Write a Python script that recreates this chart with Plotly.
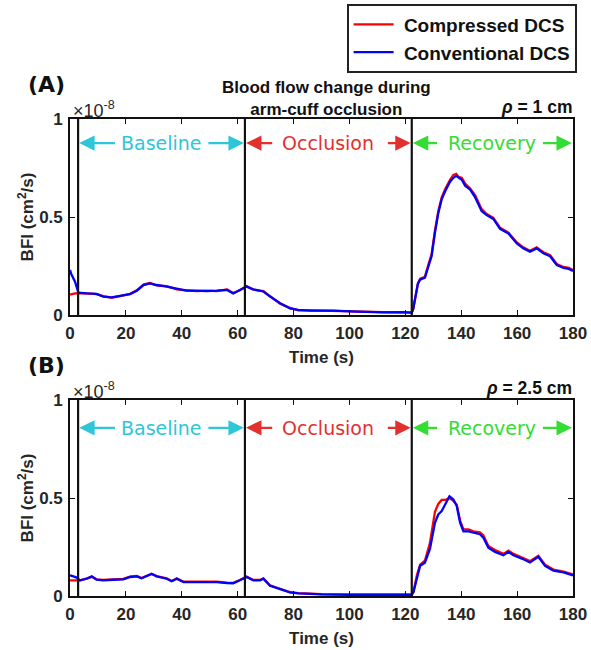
import plotly.graph_objects as go

# ---------------- data (BFI in units of 1e-8 cm^2/s) ----------------
tA = [
    0, 0.4, 1.8, 3.0, 6, 9.5, 11.9, 14.9, 17.9, 21.5,
    23.9, 26.3, 28.6, 31, 34.6, 38.2, 41.7, 45.3, 48.9, 52.5,
    56.2, 58.4, 60.8, 63.2, 65.6, 69.2, 71.6, 75.2, 78.7, 81.7,
    86, 94.3, 102.6, 112.1, 119.3, 122.3, 122.8, 123.6, 124.5, 125.3,
    127.0, 128.3, 129.4, 130.6, 131.8, 133.0, 134.2, 136.0, 137.2, 138.2,
    139.0, 140.2, 141.4, 143.2, 145.0, 147.3, 149.1, 151.5, 153.9, 156.9,
    159.9, 162.2, 164.6, 167.0, 169.4, 171.8, 174.2, 176.6, 178.5, 180]
conv_A = [
    0.23, 0.21, 0.17, 0.114, 0.11, 0.108, 0.094, 0.09, 0.098, 0.107,
    0.124, 0.153, 0.161, 0.153, 0.145, 0.133, 0.124, 0.124, 0.122, 0.124,
    0.128, 0.11, 0.128, 0.145, 0.131, 0.12, 0.094, 0.06, 0.034, 0.026,
    0.022, 0.022, 0.017, 0.013, 0.015, 0.012, 0.03, 0.10, 0.16, 0.18,
    0.19, 0.25, 0.30, 0.42, 0.52, 0.59, 0.63, 0.68, 0.70, 0.71,
    0.70, 0.69, 0.66, 0.64, 0.60, 0.53, 0.51, 0.49, 0.44, 0.416,
    0.365, 0.34, 0.323, 0.34, 0.315, 0.30, 0.255, 0.24, 0.235, 0.225]
comp_A = [
    0.105, 0.105, 0.11, 0.112, 0.11, 0.106, 0.096, 0.088, 0.096, 0.108,
    0.126, 0.155, 0.163, 0.151, 0.147, 0.131, 0.126, 0.122, 0.124, 0.122,
    0.13, 0.112, 0.126, 0.147, 0.129, 0.122, 0.096, 0.058, 0.036, 0.024,
    0.024, 0.02, 0.019, 0.015, 0.013, 0.012, 0.03, 0.10, 0.16, 0.185,
    0.195, 0.26, 0.31, 0.43, 0.53, 0.60, 0.64, 0.69, 0.715, 0.72,
    0.705, 0.70, 0.67, 0.645, 0.61, 0.54, 0.515, 0.495, 0.445, 0.42,
    0.37, 0.345, 0.328, 0.345, 0.32, 0.305, 0.26, 0.245, 0.24, 0.23]

tB = [
    0, 0.4, 2.2, 3.6, 6, 7.8, 9.5, 11.9, 15.5, 19.1,
    21.5, 23.9, 25.6, 28, 29.2, 31, 34.6, 36.4, 38.2, 40.6,
    46.5, 52.5, 56.2, 58.4, 60.8, 63.2, 65.6, 68, 69.2, 71.6,
    75.2, 78.7, 81.7, 90, 100, 110, 120, 122.3, 122.9, 124.2,
    125.3, 127.0, 128.8, 130.6, 131.8, 133.0, 134.2, 135.8, 137.2, 138.4,
    139.6, 140.8, 142.6, 144.4, 146.7, 147.9, 149.7, 152.1, 155.1, 156.9,
    158.7, 161.7, 164.6, 167.6, 170, 173, 176.6, 180]
conv_B = [
    0.105, 0.104, 0.095, 0.08, 0.088, 0.1, 0.083, 0.08, 0.083, 0.085,
    0.097, 0.1, 0.09, 0.107, 0.112, 0.1, 0.088, 0.075, 0.088, 0.071,
    0.071, 0.071, 0.066, 0.065, 0.08, 0.097, 0.08, 0.08, 0.088, 0.052,
    0.035, 0.018, 0.013, 0.008, 0.006, 0.005, 0.006, 0.006, 0.02, 0.10,
    0.154, 0.17, 0.24, 0.374, 0.416, 0.433, 0.467, 0.509, 0.492, 0.459,
    0.374, 0.33, 0.33, 0.323, 0.315, 0.298, 0.247, 0.225, 0.208, 0.225,
    0.208, 0.191, 0.171, 0.2, 0.154, 0.129, 0.12, 0.105]
comp_B = [
    0.08, 0.08, 0.082, 0.08, 0.09, 0.098, 0.085, 0.082, 0.085, 0.087,
    0.099, 0.102, 0.092, 0.109, 0.114, 0.102, 0.09, 0.077, 0.09, 0.073,
    0.073, 0.073, 0.068, 0.067, 0.082, 0.099, 0.082, 0.082, 0.09, 0.054,
    0.037, 0.02, 0.015, 0.01, 0.008, 0.007, 0.008, 0.008, 0.02, 0.11,
    0.16, 0.18, 0.27, 0.43, 0.47, 0.49, 0.49, 0.50, 0.485, 0.465,
    0.385, 0.34, 0.34, 0.33, 0.325, 0.31, 0.255, 0.235, 0.215, 0.232,
    0.215, 0.198, 0.178, 0.205, 0.16, 0.135, 0.125, 0.11]

phase_names = ["Baseline", "Occlusion", "Recovery"]
phase_colors = ["#2ec6d9", "#e3302f", "#33dd33"]
phase_bounds = [2.9, 62.6, 122.3, 180]   # phase boundaries (s)
boundary_lines = [2.9, 62.6, 122.3]
arrow_tail_left = [16.6, 72.9, 131.9]
arrow_tail_right = [49.0, 113.2, 168.7]

x_ticks = [0, 20, 40, 60, 80, 100, 120, 140, 160, 180]
y_ticks = [0, 0.5, 1]
y_ticktext = ["0", "0.5", "1"]
series_names = ["Compressed DCS", "Conventional DCS"]
series_colors = ["#ff0000", "#0000ff"]
panel_labels = ["(A)", "(B)"]
rho_labels = ["<i>ρ</i> = 1 cm", "<i>ρ</i> = 2.5 cm"]

# ---------------- figure ----------------
W, H = 591, 650
AX_L, AX_R = 70, 573
panels = [
    dict(top=119, bot=315, t=tA, comp=comp_A, conv=conv_A, arrow_y=0.877),
    dict(top=400, bot=596, t=tB, comp=comp_B, conv=conv_B, arrow_y=0.858),
]

SANS = "Liberation Sans, Arial, sans-serif"
VERD = "DejaVu Sans, Verdana, sans-serif"
INK = "#262626"

fig = go.Figure()
annotations = []
shapes = []

for i, p in enumerate(panels):
    xa = "x" if i == 0 else "x2"
    ya = "y" if i == 0 else "y2"
    for name, col, vals in zip(series_names, series_colors, [p["comp"], p["conv"]]):
        fig.add_trace(go.Scatter(
            x=p["t"], y=vals, mode="lines", name="\u00a0" + name,
            line=dict(color=col, width=2.3),
            xaxis=xa, yaxis=ya, showlegend=(i == 0)))

    axis_common = dict(
        showline=True, linecolor="#111111", linewidth=1.6, mirror="ticks",
        ticks="inside", ticklen=5, tickwidth=1.2, tickcolor="#111111",
        showgrid=False, zeroline=False, automargin=False,
        tickfont=dict(family=SANS, size=17, color=INK, weight="bold"))
    xdom = [AX_L / W, AX_R / W]
    ydom = [1 - p["bot"] / H, 1 - p["top"] / H]
    xkey = "xaxis" if i == 0 else "xaxis2"
    ykey = "yaxis" if i == 0 else "yaxis2"
    fig.update_layout(**{
        xkey: dict(axis_common, domain=xdom, range=[0, 180], tickvals=x_ticks,
                   anchor=ya, ticklabelstandoff=2,
                   title=dict(text="Time (s)", standoff=9,
                              font=dict(family=SANS, size=17, color=INK, weight="bold"))),
        ykey: dict(axis_common, domain=ydom, range=[0, 1], tickvals=y_ticks,
                   ticktext=y_ticktext, anchor=xa, ticklabelstandoff=2,
                   title=dict(text="BFI (cm<sup>2</sup>/s)", standoff=1,
                              font=dict(family=SANS, size=17, color=INK, weight="bold"))),
    })

    # phase boundary lines
    for bx in boundary_lines:
        shapes.append(dict(type="line", xref=xa, yref=ya + " domain", x0=bx, x1=bx,
                           y0=0, y1=1, line=dict(color="#111111", width=2.2)))

    # phase labels with arrows
    for k, (nm, col) in enumerate(zip(phase_names, phase_colors)):
        mid = (phase_bounds[k] + phase_bounds[k + 1]) / 2
        yv = p["arrow_y"]
        annotations.append(dict(xref=xa, yref=ya, x=mid, y=yv, text=nm, showarrow=False,
                                font=dict(family=VERD, size=19, color=col)))
        for tail, head in [(arrow_tail_left[k], phase_bounds[k] + 0.4),
                           (arrow_tail_right[k], phase_bounds[k + 1] - 0.4)]:
            annotations.append(dict(xref=xa, yref=ya, axref=xa, ayref=ya,
                                    x=head, y=yv, ax=tail, ay=yv, text="",
                                    showarrow=True, arrowhead=2, arrowsize=1.4,
                                    arrowwidth=2.2, arrowcolor=col, standoff=0,
                                    startstandoff=0))

    # panel letter, exponent, rho label
    annotations.append(dict(xref="paper", yref="paper", x=26 / W, y=1 - (p["top"] - 34) / H,
                            xanchor="left", yanchor="middle", text=panel_labels[i],
                            showarrow=False,
                            font=dict(family=VERD, size=22, color="#111111", weight="bold")))
    annotations.append(dict(xref="paper", yref="paper", x=71 / W, y=1 - (p["top"] - 10) / H,
                            xanchor="left", yanchor="middle", text="×10<sup>-8</sup>",
                            showarrow=False, font=dict(family=SANS, size=18, color=INK)))
    annotations.append(dict(xref="paper", yref="paper", x=(AX_R + 1) / W, y=1 - (p["top"] - 12) / H,
                            xanchor="right", yanchor="middle", text=rho_labels[i],
                            showarrow=False,
                            font=dict(family=SANS, size=17.5, color="#111111", weight="bold")))

annotations.append(dict(xref="paper", yref="paper", x=326 / W, y=1 - 99 / H,
                        xanchor="center", yanchor="middle",
                        text="Blood flow change during<br>arm-cuff occlusion",
                        showarrow=False,
                        font=dict(family=SANS, size=17, color="#111111", weight="bold")))

fig.update_layout(
    width=W, height=H, autosize=False,
    margin=dict(l=0, r=0, t=0, b=0),
    paper_bgcolor="white", plot_bgcolor="white",
    annotations=annotations, shapes=shapes,
    legend=dict(x=577 / W, y=1 - 4 / H, xanchor="right", yanchor="top",
                bordercolor="#222222", borderwidth=1.6, bgcolor="white",
                font=dict(family=SANS, size=19, color="#111111", weight="bold"),
                tracegroupgap=0, itemwidth=40),
    showlegend=True,
)

fig.write_html("out.html", config={"displayModeBar": False},
               post_script="document.body.style.margin='0';document.body.style.overflow='hidden';")
